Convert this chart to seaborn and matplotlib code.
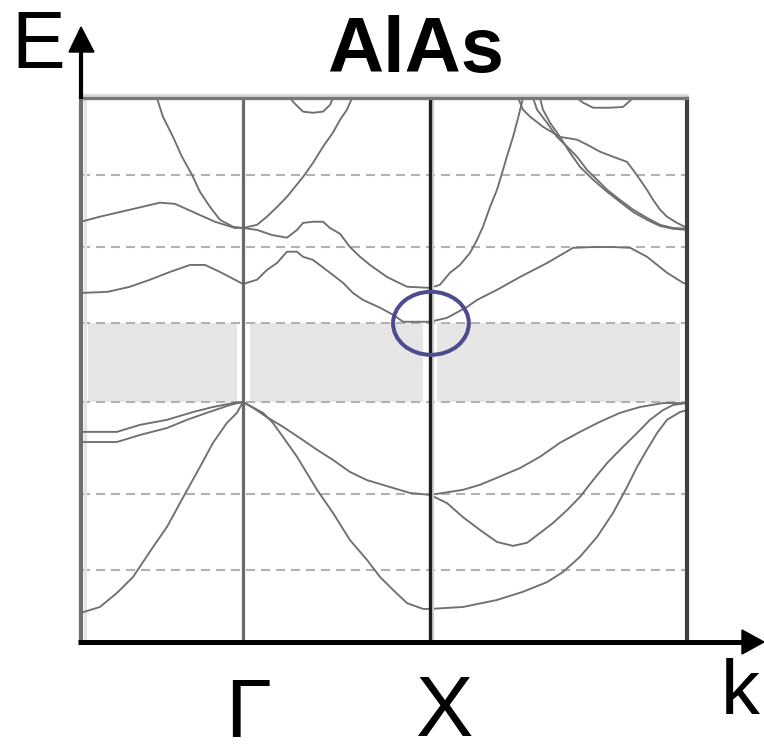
import numpy as np
import pandas as pd
import matplotlib
matplotlib.use("Agg")
import matplotlib.pyplot as plt
import seaborn as sns
from matplotlib.patches import Ellipse, Polygon
from matplotlib.lines import Line2D

sns.set_style("white")
plt.rcParams["font.family"] = ["Liberation Sans", "DejaVu Sans"]
plt.rcParams["lines.scale_dashes"] = False
plt.rcParams["text.color"] = "black"

# ---- path through the Brillouin zone (k) and energy window (E, eV) ----
k_L, k_G, k_X, k_K = -0.866, 0.0, 1.0, 2.374
E_min, E_max = -6.17, 7.81
grid_E = [5.84, 3.98, 2.03, 0.0, -2.37, -4.32]
gap_lo, gap_hi = 0.0, 2.03
sym_k = [k_G, k_X]
sym_labels = ["Γ", "X"]
title = "AlAs"

# ---- bands, L -> Γ ----
cb_lg1_k = [-0.460, -0.428, -0.374, -0.326, -0.273, -0.230, -0.176, -0.123, -0.053, 0.0]
cb_lg1_E = [7.81, 7.33, 6.81, 6.30, 5.84, 5.40, 5.01, 4.68, 4.50, 4.47]
cb_lg2_k = [-0.866, -0.765, -0.604, -0.444, -0.364, -0.257, -0.150, -0.043, 0.0]
cb_lg2_E = [4.63, 4.76, 4.94, 5.12, 5.09, 4.86, 4.63, 4.47, 4.47]
cb_lg3_k = [-0.866, -0.722, -0.604, -0.497, -0.390, -0.283, -0.203, -0.123, -0.043, 0.0]
cb_lg3_E = [2.80, 2.83, 2.96, 3.14, 3.34, 3.52, 3.52, 3.34, 3.14, 3.03]
vb_lg1_k = [-0.866, -0.674, -0.551, -0.406, -0.267, -0.160, -0.053, 0.0]
vb_lg1_E = [-0.77, -0.77, -0.59, -0.46, -0.26, -0.13, -0.03, 0.0]
vb_lg2_k = [-0.866, -0.674, -0.551, -0.406, -0.299, -0.193, -0.070, 0.0]
vb_lg2_E = [-1.03, -1.03, -0.85, -0.67, -0.46, -0.28, -0.08, 0.0]
vb_lg3_k = [-0.866, -0.765, -0.674, -0.588, -0.481, -0.406, -0.337, -0.230, -0.160, -0.086, -0.032, 0.0]
vb_lg3_E = [-5.42, -5.27, -4.91, -4.50, -3.73, -3.21, -2.60, -1.67, -1.05, -0.54, -0.28, 0.0]

# ---- bands, Γ -> X ----
top_gx_k = [0.251, 0.278, 0.321, 0.374, 0.428, 0.465, 0.481]
top_gx_E = [7.81, 7.66, 7.46, 7.43, 7.46, 7.63, 7.81]
cb_gx1_k = [0.0, 0.075, 0.128, 0.182, 0.235, 0.321, 0.374, 0.428, 0.481, 0.519, 0.556, 0.583]
cb_gx1_E = [4.47, 4.55, 4.76, 5.01, 5.27, 5.78, 6.14, 6.56, 6.92, 7.25, 7.51, 7.81]
cb_gx2_k = [0.0, 0.075, 0.155, 0.235, 0.289, 0.321, 0.374, 0.428, 0.465, 0.519, 0.572, 0.626, 0.679, 0.770, 0.877, 1.0]
cb_gx2_E = [4.47, 4.42, 4.29, 4.22, 4.42, 4.60, 4.63, 4.63, 4.47, 4.32, 3.98, 3.73, 3.52, 3.21, 2.96, 2.93]
cb_gx3_k = [0.0, 0.075, 0.128, 0.182, 0.235, 0.289, 0.321, 0.374, 0.465, 0.535, 0.588, 0.642, 0.733, 0.802, 0.856, 1.0]
cb_gx3_E = [3.03, 3.14, 3.39, 3.57, 3.86, 3.86, 3.73, 3.65, 3.32, 3.06, 2.80, 2.62, 2.42, 2.24, 2.06, 2.06]
vb_gx1_k = [0.0, 0.053, 0.128, 0.214, 0.305, 0.396, 0.481, 0.572, 0.663, 0.733, 0.802, 0.893, 1.0]
vb_gx1_E = [0.0, -0.15, -0.39, -0.64, -0.93, -1.23, -1.49, -1.80, -2.01, -2.11, -2.21, -2.34, -2.39]
vb_gx2_k = [0.0, 0.037, 0.107, 0.160, 0.214, 0.289, 0.396, 0.481, 0.572, 0.663, 0.733, 0.802, 0.877, 0.963, 1.0]
vb_gx2_E = [0.0, -0.10, -0.28, -0.54, -0.90, -1.41, -2.26, -2.85, -3.55, -4.06, -4.50, -4.83, -5.17, -5.32, -5.32]

# ---- bands, X -> K ----
cb_xk1_k = [1.0, 1.053, 1.107, 1.160, 1.214, 1.251, 1.283, 1.321, 1.358, 1.390, 1.417, 1.444, 1.471, 1.497]
cb_xk1_E = [2.93, 3.01, 3.32, 3.52, 3.83, 4.16, 4.50, 5.01, 5.45, 5.96, 6.40, 6.81, 7.30, 7.81]
cb_xk2_k = [1.0, 1.091, 1.198, 1.251, 1.358, 1.481, 1.626, 1.765, 1.872, 1.979, 2.070, 2.160, 2.267, 2.353, 2.374]
cb_xk2_E = [2.06, 2.16, 2.44, 2.62, 2.88, 3.21, 3.57, 3.96, 3.98, 3.98, 3.96, 3.73, 3.32, 3.06, 3.03]
cb_xk3_k = [1.471, 1.497, 1.535, 1.604, 1.695, 1.786, 1.840, 1.909, 1.979, 2.053, 2.086, 2.123, 2.160, 2.193, 2.230, 2.267, 2.321, 2.374]
cb_xk3_E = [7.81, 7.51, 7.33, 7.07, 6.81, 6.74, 6.61, 6.43, 6.30, 6.17, 5.96, 5.71, 5.45, 5.19, 4.94, 4.76, 4.60, 4.47]
cb_xk4_k = [1.551, 1.572, 1.626, 1.679, 1.733, 1.786, 1.840, 1.893, 1.947, 2.016, 2.086, 2.160, 2.230, 2.299, 2.374]
cb_xk4_E = [7.81, 7.51, 7.17, 6.81, 6.56, 6.30, 5.96, 5.71, 5.45, 5.19, 4.94, 4.73, 4.55, 4.47, 4.45]
cb_xk5_k = [1.588, 1.604, 1.642, 1.695, 1.749, 1.802, 1.872, 1.947, 2.016, 2.086, 2.160, 2.230, 2.299, 2.374]
cb_xk5_E = [7.81, 7.51, 7.17, 6.81, 6.40, 6.04, 5.71, 5.40, 5.14, 4.88, 4.68, 4.52, 4.45, 4.42]
top_xk_k = [1.786, 1.818, 1.872, 1.963, 2.032, 2.086]
top_xk_E = [7.81, 7.69, 7.56, 7.56, 7.58, 7.81]
vb_xk1_k = [1.0, 1.176, 1.267, 1.358, 1.481, 1.588, 1.695, 1.802, 1.909, 2.016, 2.123, 2.246, 2.374]
vb_xk1_E = [-2.39, -2.26, -2.13, -1.95, -1.70, -1.41, -1.05, -0.77, -0.51, -0.28, -0.13, -0.03, -0.03]
vb_xk2_k = [1.0, 1.091, 1.176, 1.267, 1.358, 1.444, 1.519, 1.588, 1.658, 1.733, 1.802, 1.872, 1.947, 2.016, 2.107, 2.176, 2.246, 2.299, 2.374]
vb_xk2_E = [-2.39, -2.60, -2.96, -3.29, -3.60, -3.70, -3.62, -3.37, -3.11, -2.78, -2.44, -2.01, -1.57, -1.23, -0.80, -0.46, -0.21, -0.08, -0.03]
vb_xk3_k = [1.0, 1.176, 1.358, 1.497, 1.626, 1.711, 1.802, 1.893, 1.979, 2.053, 2.107, 2.160, 2.214, 2.267, 2.337, 2.374]
vb_xk3_E = [-5.32, -5.27, -5.09, -4.88, -4.63, -4.37, -3.98, -3.47, -2.85, -2.19, -1.67, -1.23, -0.80, -0.46, -0.26, -0.21]

segments = {
    "cb_lg1": (cb_lg1_k, cb_lg1_E), "cb_lg2": (cb_lg2_k, cb_lg2_E), "cb_lg3": (cb_lg3_k, cb_lg3_E),
    "vb_lg1": (vb_lg1_k, vb_lg1_E), "vb_lg2": (vb_lg2_k, vb_lg2_E), "vb_lg3": (vb_lg3_k, vb_lg3_E),
    "top_gx": (top_gx_k, top_gx_E), "cb_gx1": (cb_gx1_k, cb_gx1_E), "cb_gx2": (cb_gx2_k, cb_gx2_E),
    "cb_gx3": (cb_gx3_k, cb_gx3_E), "vb_gx1": (vb_gx1_k, vb_gx1_E), "vb_gx2": (vb_gx2_k, vb_gx2_E),
    "cb_xk1": (cb_xk1_k, cb_xk1_E), "cb_xk2": (cb_xk2_k, cb_xk2_E), "cb_xk3": (cb_xk3_k, cb_xk3_E),
    "cb_xk4": (cb_xk4_k, cb_xk4_E), "cb_xk5": (cb_xk5_k, cb_xk5_E), "top_xk": (top_xk_k, top_xk_E),
    "vb_xk1": (vb_xk1_k, vb_xk1_E), "vb_xk2": (vb_xk2_k, vb_xk2_E), "vb_xk3": (vb_xk3_k, vb_xk3_E),
}
bands = pd.concat(
    [pd.DataFrame({"k": ks, "E": es, "band": name}) for name, (ks, es) in segments.items()],
    ignore_index=True,
)

W, H = 764, 755
fig = plt.figure(figsize=(W / 100, H / 100), dpi=100)


def fxy(px, py):
    """Figure fraction from pixel position measured from the top-left corner."""
    return px / W, 1 - py / H


ax = fig.add_axes([81 / W, (H - 642) / H, (687 - 81) / W, (642 - 98) / H])
ax.set_xlim(k_L, k_K)
ax.set_ylim(E_min, E_max)
ax.set_axis_off()

# band gap shading, interrupted at the symmetry lines
for k0, k1 in [(k_L + 0.037, k_G - 0.032), (k_G + 0.037, k_X - 0.037), (k_X + 0.037, k_K - 0.037)]:
    ax.fill_between([k0, k1], gap_lo, gap_hi, color="#e6e6e6", lw=0, zorder=0)

# dashed energy grid
for e in grid_E:
    ax.axhline(e, color="#b2b2b2", lw=1.5, ls=(0, (6.5, 4.3)), zorder=1)

# band structure
sns.lineplot(data=bands, x="k", y="E", units="band", estimator=None,
             color="#6f6f6f", lw=1.35, ax=ax, legend=False, zorder=3)

# frame and symmetry lines
ax.axvline(k_L + 0.02, color="#e2e2e2", lw=2.0, zorder=2)
ax.axvline(k_L, color="#6e6e6e", lw=3.0, clip_on=False, zorder=4)
ax.axvline(k_G, color="#6a6a6a", lw=2.3, zorder=4)
ax.axvline(k_X + 0.017, color="#d2d2d2", lw=1.6, zorder=4)
ax.axvline(k_X, color="#1e1e1e", lw=2.4, zorder=5)
ax.axvline(k_K, color="#404040", lw=3.0, clip_on=False, zorder=4)
ax.axhline(E_max + 0.08, color="#d8d8d8", lw=2.0, clip_on=False, zorder=4)
ax.axhline(E_max, color="#787878", lw=2.4, clip_on=False, zorder=5)

# indirect-gap marker at X
ax.add_patch(Ellipse((k_X + 0.005, gap_hi - 0.01), 0.405, 1.62, fill=False,
                     ec="#4c4c8e", lw=2.9, zorder=6))

# axis arrows
fig.add_artist(Line2D(*zip(fxy(78, 642), fxy(746, 642)), color="black", lw=3.6,
                      solid_capstyle="butt", transform=fig.transFigure))
fig.add_artist(Polygon([fxy(742, 630), fxy(764, 642), fxy(742, 654)], closed=True,
                       color="black", transform=fig.transFigure))
fig.add_artist(Line2D(*zip(fxy(81, 99), fxy(81, 48)), color="black", lw=3.0,
                      solid_capstyle="butt", transform=fig.transFigure))
fig.add_artist(Polygon([fxy(69, 52), fxy(81, 27), fxy(94, 52)], closed=True,
                       color="black", transform=fig.transFigure))

# labels
fig.text(*fxy(416, 72), title, ha="center", va="baseline", fontsize=56,
         fontweight="bold", color="black")
fig.text(*fxy(38, 68), "E", ha="center", va="baseline", fontsize=58, color="black")
fig.text(*fxy(740, 715), "k", ha="center", va="baseline", fontsize=56, color="black")
for kk, lab, dx, py, fs in zip(sym_k, sym_labels, [5, 14], [737, 736], [60, 62]):
    px = 81 + (kk - k_L) / (k_K - k_L) * (687 - 81) + dx
    fig.text(*fxy(px, py), lab, ha="center", va="baseline", fontsize=fs, color="black")

fig.savefig("out.png", dpi=100)
